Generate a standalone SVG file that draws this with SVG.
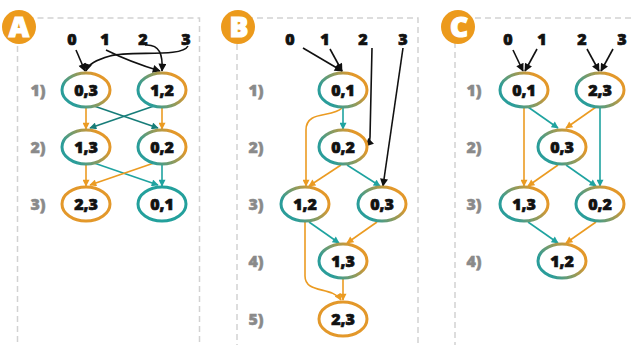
<svg xmlns="http://www.w3.org/2000/svg" width="632" height="345" viewBox="0 0 632 345">
  <defs>
    <linearGradient id="mix" x1="0" y1="0.75" x2="1" y2="0.25">
      <stop offset="0.15" stop-color="#2a9d9a"/>
      <stop offset="0.85" stop-color="#e3982a"/>
    </linearGradient>
    <marker id="ah-k" viewBox="0 0 10 10" refX="9" refY="5" markerUnits="userSpaceOnUse" markerWidth="9" markerHeight="8" orient="auto">
      <path d="M0,0 L10,5 L0,10 z" fill="#111"/>
    </marker>
    <marker id="ah-o" viewBox="0 0 10 10" refX="9" refY="5" markerUnits="userSpaceOnUse" markerWidth="8" markerHeight="7" orient="auto">
      <path d="M0,0 L10,5 L0,10 z" fill="#eb9b22"/>
    </marker>
    <marker id="ah-t" viewBox="0 0 10 10" refX="9" refY="5" markerUnits="userSpaceOnUse" markerWidth="8" markerHeight="7" orient="auto">
      <path d="M0,0 L10,5 L0,10 z" fill="#1fa3a0"/>
    </marker>
    <marker id="ah-d" viewBox="0 0 10 10" refX="9" refY="5" markerUnits="userSpaceOnUse" markerWidth="8" markerHeight="7" orient="auto">
      <path d="M0,0 L10,5 L0,10 z" fill="#177d79"/>
    </marker>
  </defs>
  <style>
    .frame { fill: none; stroke: #d2d2d2; stroke-width: 1.5; stroke-dasharray: 6 4; }
    .badge circle { fill: #ec9a1c; }
    .badge text { fill: #fff; stroke: #fff; stroke-width: 1.2; font-family: "Open Sans", "DejaVu Sans", sans-serif; font-weight: 800; font-size: 28px; text-anchor: middle; }
    .node ellipse { fill: #fff; stroke: url(#mix); stroke-width: 3; }
    .node.o ellipse { stroke: #e3982a; }
    .node.t ellipse { stroke: #23a09c; }
    .node text, .in text { font-family: "Open Sans", "DejaVu Sans", sans-serif; font-weight: 800; font-size: 16px; fill: #111; stroke: #111; stroke-width: 0.7; text-anchor: middle; }
    .row text { font-family: "Open Sans", "DejaVu Sans", sans-serif; font-weight: 800; font-size: 16px; fill: #8a8a8a; stroke: #8a8a8a; stroke-width: 0.5; text-anchor: middle; }
    .edges path { fill: none; stroke-width: 1.6; }
    .k { stroke: #111; marker-end: url(#ah-k); }
    .or { stroke: #eb9b22; marker-end: url(#ah-o); }
    .te { stroke: #1fa3a0; marker-end: url(#ah-t); }
    .dt { stroke: #177d79; marker-end: url(#ah-d); }
  </style>

  <!-- panel frames -->
  <rect class="frame" x="17.5" y="18" width="182" height="340"/>
  <rect class="frame" x="237" y="18" width="181" height="340"/>
  <rect class="frame" x="455" y="18" width="190" height="340"/>

  <!-- panel badges -->
  <g id="badge-A" class="badge"><circle cx="19" cy="27" r="17"/><text x="19" y="37">A</text></g>
  <g id="badge-B" class="badge"><circle cx="238" cy="27" r="17"/><text x="239" y="37">B</text></g>
  <g id="badge-C" class="badge"><circle cx="458" cy="27" r="17"/><text x="459" y="37">C</text></g>

  <!-- step labels -->
  <g id="rows" class="row">
    <text x="38" y="96">1)</text>
    <text x="38" y="153">2)</text>
    <text x="38" y="210">3)</text>
    <text x="256" y="96">1)</text>
    <text x="256" y="153">2)</text>
    <text x="256" y="210">3)</text>
    <text x="256" y="267">4)</text>
    <text x="256" y="325">5)</text>
    <text x="474" y="96">1)</text>
    <text x="474" y="153">2)</text>
    <text x="474" y="210">3)</text>
    <text x="474" y="267">4)</text>
  </g>

  <!-- inputs -->
  <g id="inputs" class="in">
    <text x="72" y="45">0</text>
    <text x="105" y="45">1</text>
    <text x="143" y="45">2</text>
    <text x="186" y="45">3</text>
    <text x="290" y="45">0</text>
    <text x="325" y="45">1</text>
    <text x="363" y="45">2</text>
    <text x="403" y="45">3</text>
    <text x="508" y="45">0</text>
    <text x="542" y="45">1</text>
    <text x="582" y="45">2</text>
    <text x="622" y="45">3</text>
  </g>

  <!-- connectors -->
  <g id="connectors" class="edges">
    <!-- panel A -->
    <path class="k" d="M76,50 L85,71"/>
    <path class="k" d="M106,50 Q130,62 160,71"/>
    <path class="k" d="M145,45 C160,44 163,55 162,71"/>
    <path class="k" d="M188,46 C182,58 130,50 110,56 C96,60 88,64 86,71"/>
    <path class="or" d="M86,108 L86,129"/>
    <path class="or" d="M162,108 L162,129"/>
    <path class="dt" d="M94,106 L158,128"/>
    <path class="dt" d="M154,106 L90,128"/>
    <path class="or" d="M86,165 L86,186"/>
    <path class="te" d="M162,165 L162,186"/>
    <path class="te" d="M94,163 L158,185"/>
    <path class="or" d="M154,163 L90,185"/>
    <!-- panel B -->
    <path class="k" d="M303,48 L342,71"/>
    <path class="k" d="M330,49 Q336,60 342,71"/>
    <path class="k" d="M372,48 L370,137 Q370,142 366,146"/>
    <path class="k" d="M403,48 L383,186"/>
    <path class="te" d="M343,108 L343,129"/>
    <path class="or" d="M342,108 C332,118 306,110 306,130 L306,186"/>
    <path class="or" d="M341,165 L309,186"/>
    <path class="te" d="M347,165 L380,186"/>
    <path class="te" d="M309,222 L339,243"/>
    <path class="or" d="M377,222 L347,243"/>
    <path class="or" d="M343,279 L343,300"/>
    <path class="or" d="M305,222 L305,276 C305,294 332,286 341,300"/>
    <!-- panel C -->
    <path class="k" d="M513,50 L523,71"/>
    <path class="k" d="M537,49 L525,71"/>
    <path class="k" d="M587,49 L599,71"/>
    <path class="k" d="M613,49 L601,71"/>
    <path class="te" d="M528,107 L558,128"/>
    <path class="or" d="M596,107 L566,128"/>
    <path class="or" d="M524,108 L524,186"/>
    <path class="te" d="M600,108 L600,186"/>
    <path class="or" d="M558,165 L528,186"/>
    <path class="te" d="M566,165 L596,186"/>
    <path class="te" d="M528,222 L558,243"/>
    <path class="or" d="M596,222 L566,243"/>
  </g>

  <!-- panel A nodes -->
  <g id="A-03" class="node"><ellipse cx="86" cy="90" rx="24" ry="17"/><text x="86" y="96">0,3</text></g>
  <g id="A-12" class="node"><ellipse cx="162" cy="90" rx="24" ry="17"/><text x="162" y="96">1,2</text></g>
  <g id="A-13" class="node"><ellipse cx="86" cy="147" rx="24" ry="17"/><text x="86" y="153">1,3</text></g>
  <g id="A-02" class="node"><ellipse cx="162" cy="147" rx="24" ry="17"/><text x="162" y="153">0,2</text></g>
  <g id="A-23" class="node o"><ellipse cx="86" cy="204" rx="24" ry="17"/><text x="86" y="210">2,3</text></g>
  <g id="A-01" class="node t"><ellipse cx="162" cy="204" rx="24" ry="17"/><text x="162" y="210">0,1</text></g>

  <!-- panel B nodes -->
  <g id="B-01" class="node"><ellipse cx="343" cy="90" rx="24" ry="17"/><text x="343" y="96">0,1</text></g>
  <g id="B-02" class="node"><ellipse cx="343" cy="147" rx="24" ry="17"/><text x="343" y="153">0,2</text></g>
  <g id="B-12" class="node"><ellipse cx="305" cy="204" rx="24" ry="17"/><text x="305" y="210">1,2</text></g>
  <g id="B-03" class="node"><ellipse cx="382" cy="204" rx="24" ry="17"/><text x="382" y="210">0,3</text></g>
  <g id="B-13" class="node"><ellipse cx="343" cy="261" rx="24" ry="17"/><text x="343" y="267">1,3</text></g>
  <g id="B-23" class="node o"><ellipse cx="343" cy="319" rx="24" ry="17"/><text x="343" y="325">2,3</text></g>

  <!-- panel C nodes -->
  <g id="C-01" class="node"><ellipse cx="524" cy="90" rx="24" ry="17"/><text x="524" y="96">0,1</text></g>
  <g id="C-23" class="node"><ellipse cx="600" cy="90" rx="24" ry="17"/><text x="600" y="96">2,3</text></g>
  <g id="C-03" class="node"><ellipse cx="562" cy="147" rx="24" ry="17"/><text x="562" y="153">0,3</text></g>
  <g id="C-13" class="node"><ellipse cx="524" cy="204" rx="24" ry="17"/><text x="524" y="210">1,3</text></g>
  <g id="C-02" class="node"><ellipse cx="600" cy="204" rx="24" ry="17"/><text x="600" y="210">0,2</text></g>
  <g id="C-12" class="node"><ellipse cx="562" cy="261" rx="24" ry="17"/><text x="562" y="267">1,2</text></g>
</svg>
